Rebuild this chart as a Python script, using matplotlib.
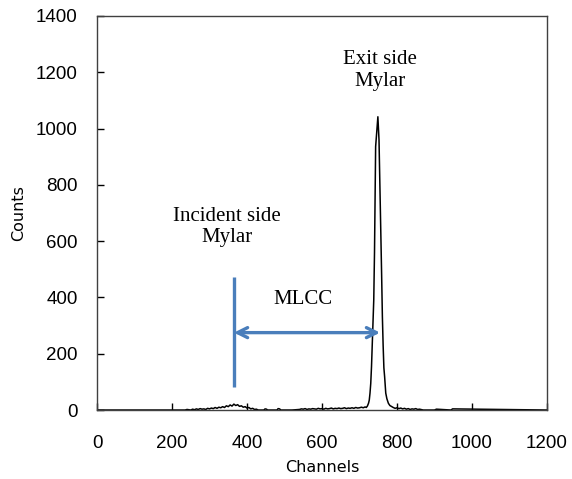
import matplotlib
matplotlib.use("Agg")
import matplotlib.pyplot as plt

# ---- data ----
channels = [0, 235, 240, 250, 255, 260, 265, 270, 275, 280, 285, 290, 295,
            300, 305, 310, 315, 320, 325, 330, 335, 340, 345, 350, 355, 360,
            365, 370, 375, 380, 385, 390, 395, 400, 405, 410, 415, 420, 425,
            430, 445, 448, 452, 455, 480, 483, 487, 490, 520, 540, 545, 550,
            555, 560, 565, 570, 575, 580, 585, 590, 595, 600, 605, 610, 615,
            620, 625, 630, 635, 640, 645, 650, 655, 660, 665, 670, 675, 680,
            685, 690, 695, 700, 705, 710, 715, 718, 721, 724, 726, 728, 730,
            732, 734, 736, 738, 740, 743, 746, 749, 752, 755, 757, 759, 761,
            763, 765, 767, 770, 773, 777, 781, 786, 790, 795, 800, 805, 810,
            815, 820, 825, 830, 835, 840, 845, 850, 855, 860, 870, 880, 900,
            905, 940, 944, 948, 1200]
counts = [0, 0, 2, 0, 3, 1, 4, 2, 5, 3, 4, 2, 6,
          4, 7, 5, 9, 6, 10, 8, 12, 9, 15, 12, 18, 14,
          21, 16, 19, 13, 15, 10, 12, 7, 9, 4, 6, 2, 3,
          0, 0, 4, 3, 0, 0, 5, 4, 0, 0, 2, 4, 3,
          5, 2, 4, 3, 5, 4, 3, 6, 4, 5, 3, 6, 4,
          5, 7, 4, 6, 5, 7, 5, 6, 8, 5, 7, 6, 8,
          6, 9, 7, 8, 10, 8, 11, 9, 14, 24, 35, 60, 95,
          154, 230, 310, 391, 560, 936, 990, 1042, 960, 760, 628, 480, 332,
          230, 150, 118, 60, 40, 24, 16, 12, 9, 6, 8, 5, 7,
          4, 6, 3, 5, 2, 4, 3, 5, 2, 3, 0, 0, 0,
          3, 0, 0, 4, 0]

xticks = [0, 200, 400, 600, 800, 1000, 1200]
yticks = [0, 200, 400, 600, 800, 1000, 1200, 1400]

incident_x = 365
incident_y = (82, 473)
arrow_x = (365, 755)
arrow_y = 275

blue = "#4a7ebb"

fig = plt.figure(figsize=(5.72, 4.79), dpi=100)
ax = fig.add_axes([0.1696, 0.144, 0.7867, 0.8226])

ax.plot(channels, counts, color="black", lw=1.1)

ax.set_xlim(0, 1200)
ax.set_ylim(0, 1400)
ax.set_xticks(xticks)
ax.set_yticks(yticks)

sans = "Liberation Sans"
ax.tick_params(direction="in", length=5, width=1, colors="black",
               labelsize=13.5)
ax.tick_params(axis="x", pad=18)
ax.tick_params(axis="y", pad=14)
for lab in ax.get_xticklabels() + ax.get_yticklabels():
    lab.set_family(sans)
for sp in ax.spines.values():
    sp.set_color("#404040")
    sp.set_linewidth(1)

title_font = "DejaVu Sans"
ax.set_xlabel("Channels", fontsize=11.5, family=title_font, labelpad=6)
ax.set_ylabel("Counts", fontsize=11.5, family=title_font, labelpad=7)

ax.plot([incident_x, incident_x], incident_y, color=blue, lw=2.4,
        solid_capstyle="butt")
ax.annotate("", xy=(arrow_x[1], arrow_y), xytext=(arrow_x[0], arrow_y),
            arrowprops=dict(arrowstyle="<->", color=blue, lw=2.4,
                            mutation_scale=18, shrinkA=0, shrinkB=0))

serif = "Liberation Serif"
ax.text(755, 1205, "Exit side\nMylar", ha="center", va="center",
        family=serif, fontsize=15, linespacing=1.2)
ax.text(347, 650, "Incident side\nMylar", ha="center", va="center",
        family=serif, fontsize=15, linespacing=1.2)
ax.text(549, 394, "MLCC", ha="center", va="center",
        family=serif, fontsize=15)

fig.savefig("out.png", dpi=100)
